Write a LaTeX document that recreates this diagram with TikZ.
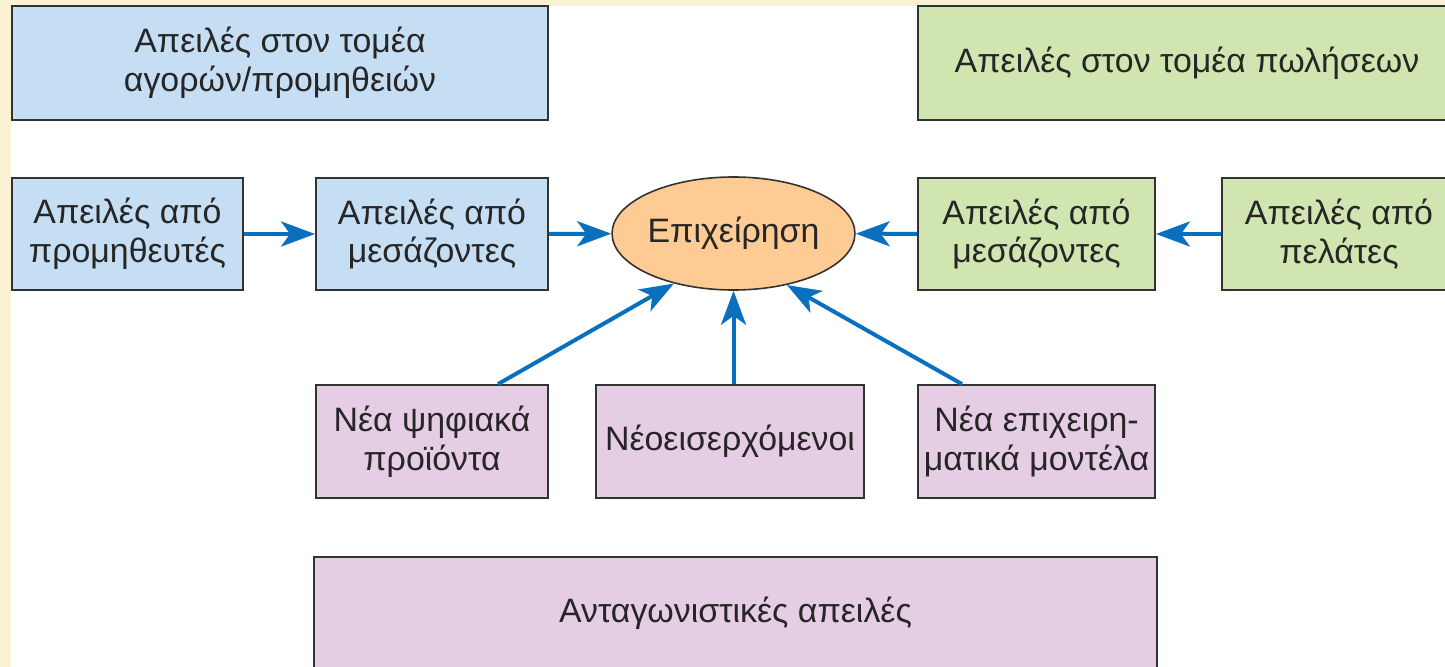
\documentclass[tikz,border=0pt]{standalone}
\usepackage{fontspec}
\setmainfont{Liberation Sans}
\usetikzlibrary{arrows.meta,shapes.geometric}

\definecolor{pagecream}{HTML}{FBF1D3}
\definecolor{boxblue}{HTML}{C6DEF3}
\definecolor{boxgreen}{HTML}{D1E5B1}
\definecolor{boxpurple}{HTML}{E5CDE4}
\definecolor{firmorange}{HTML}{FDCB93}
\definecolor{edgegray}{HTML}{333333}
\definecolor{arrowblue}{HTML}{0A70BE}

\tikzset{
  threat/.style={draw=edgegray, line width=1.8bp, align=center, inner sep=0pt,
    font=\fontsize{34}{39}\selectfont, text=black!85},
  bluebox/.style={threat, fill=boxblue},
  greenbox/.style={threat, fill=boxgreen},
  purplebox/.style={threat, fill=boxpurple},
  firm/.style={ellipse, draw=edgegray, line width=1.6bp, fill=firmorange,
    minimum width=237bp, minimum height=113bp, inner sep=0pt,
    font=\fontsize{34}{39}\selectfont, text=black!85},
  flow/.style={draw=arrowblue, line width=4bp,
    -{Stealth[length=34bp, width=25bp, inset=9bp]}},
}

\begin{document}
\begin{tikzpicture}[x=1bp, y=-1bp]
  \useasboundingbox (0,0) rectangle (1445,667);
  % page background
  \fill[pagecream] (0,0) rectangle (1445,667);
  \fill[white] (11,6) rectangle (1445,667);

  % sector headers
  \node[bluebox, minimum width=536bp, minimum height=114bp] (buyside) at (280,63)
    {Απειλές στον τομέα\\αγορών/προμηθειών};
  \node[greenbox, minimum width=538bp, minimum height=114bp] (sellside) at (1187,63)
    {Απειλές στον τομέα πωλήσεων};

  % supply chain row
  \node[bluebox, minimum width=231bp, minimum height=112bp] (suppliers) at (127.5,234)
    {Απειλές από\\προμηθευτές};
  \node[bluebox, minimum width=232bp, minimum height=112bp] (buyagents) at (432,234)
    {Απειλές από\\μεσάζοντες};
  \node[firm] (company) at (733.5,233.5) {Επιχείρηση};
  \node[greenbox, minimum width=237bp, minimum height=112bp] (sellagents) at (1036.5,234)
    {Απειλές από\\μεσάζοντες};
  \node[greenbox, minimum width=234bp, minimum height=112bp] (customers) at (1339,234)
    {Απειλές από\\πελάτες};

  % competitive row
  \node[purplebox, minimum width=232bp, minimum height=113bp] (digital) at (432,441.5)
    {Νέα ψηφιακά\\προϊόντα};
  \node[purplebox, minimum width=268bp, minimum height=113bp] (entrants) at (730,441.5)
    {Νέοεισερχόμενοι};
  \node[purplebox, minimum width=237bp, minimum height=113bp] (models) at (1036.5,441.5)
    {Νέα επιχειρη-\\ματικά μοντέλα};

  \node[purplebox, minimum width=843bp, minimum height=112bp] (rivalry) at (735.5,613)
    {Ανταγωνιστικές απειλές};

  % threat flows towards the firm
  \draw[flow] (suppliers) -- (buyagents);
  \draw[flow] (buyagents) -- (company);
  \draw[flow] (customers) -- (sellagents);
  \draw[flow] (sellagents) -- (company);
  \draw[flow] ([xshift=66bp]digital.north) -- (company.220.4);
  \draw[flow] (entrants.north -| company.south) -- (company.south);
  \draw[flow] ([xshift=-74.5bp]models.north) -- (company.316.6);
\end{tikzpicture}
\end{document}
